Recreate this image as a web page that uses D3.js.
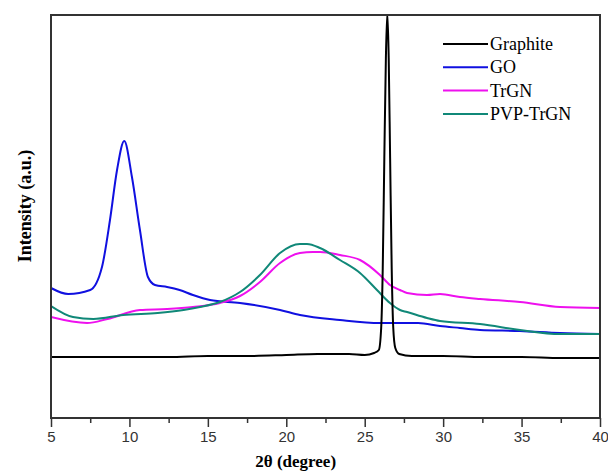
<!DOCTYPE html>
<html>
<head>
<meta charset="utf-8">
<script src="https://cdn.jsdelivr.net/npm/d3@7"></script>
<style>
  body { margin: 0; background: #fff; }
</style>
</head>
<body>
<script>
// XRD patterns, intensity in arbitrary units
var graphiteX = [5, 7, 10, 12.5, 15, 17.5, 20, 22, 24, 25, 25.6, 25.9, 26.05, 26.15, 26.25, 26.35, 26.44, 26.53, 26.62, 26.72, 26.82, 26.95, 27.2, 28, 30, 32.5, 35, 37.5, 40];
var graphiteY = [61, 61, 61, 61, 62, 62, 63, 64, 64, 63, 65, 68, 90, 150, 260, 360, 405, 360, 260, 150, 90, 70, 64, 62, 62, 61, 61, 60, 60];

var goX = [5, 6.1, 7.5, 8.25, 8.76, 9.21, 9.67, 10.16, 10.67, 11.18, 11.63, 12.4, 13.2, 14.05, 15.14, 17.05, 19.6, 20.87, 23.42, 25.97, 27.25, 28.4, 29.8, 31.07, 32.35, 34.9, 37.45, 40];
var goY = [130, 124, 128, 151, 198, 248, 277, 241, 188, 141, 133, 131, 128, 123, 118, 115, 108, 103, 98, 95, 95, 95, 92, 90, 88, 87, 85, 84];

var trgnX = [5, 7.3, 8.6, 10.67, 12.4, 14.05, 15.77, 17.05, 18.32, 19.6, 20.87, 21.7, 22.15, 23.42, 24.7, 25.97, 26.61, 27.25, 27.7, 28.97, 29.8, 31.07, 32.35, 34.9, 37.45, 40];
var trgnY = [101, 95, 99, 108, 109, 111, 115, 122, 136, 155, 165, 166, 166, 163, 158, 143, 133, 128, 125, 123, 124, 121, 119, 116, 111, 110];

var pvpX = [5, 6.4, 7.7, 9.6, 11.8, 13.45, 14.5, 15.77, 17.05, 18.32, 19.6, 20.87, 21.32, 22.15, 23.42, 24.7, 25.78, 26.61, 27.25, 27.7, 28.97, 29.8, 32.35, 34.9, 37.45, 40];
var pvpY = [112, 101, 99, 103, 105, 108, 111, 116, 126, 143, 165, 174, 174, 170, 158, 145, 128, 115, 108, 106, 100, 97, 94, 88, 84, 84];

var seriesNames = ["Graphite", "GO", "TrGN", "PVP-TrGN"];
var seriesColors = ["#000000", "#1010e0", "#ee10ee", "#108878"];
var xTicks = [5, 10, 15, 20, 25, 30, 35, 40];
var xMinorTicks = [7.5, 12.5, 17.5, 22.5, 27.5, 32.5, 37.5];

var margin = { top: 15, right: 8, bottom: 56, left: 51 },
    width = 608 - margin.left - margin.right,
    height = 474 - margin.top - margin.bottom;

var svg = d3.select("body").append("svg")
    .attr("width", 608)
    .attr("height", 474);

var g = svg.append("g")
    .attr("transform", "translate(" + margin.left + "," + margin.top + ")");

var x = d3.scaleLinear().domain([5, 40]).range([0, width]);
var y = d3.scaleLinear().domain([0, 403]).range([height, 0]);

var line = d3.line()
    .x(function (d) { return x(d[0]); })
    .y(function (d) { return y(d[1]); })
    .curve(d3.curveMonotoneX);

g.append("clipPath").attr("id", "clip")
    .append("rect").attr("width", width).attr("height", height);

var allX = [graphiteX, goX, trgnX, pvpX];
var allY = [graphiteY, goY, trgnY, pvpY];

// draw the patterns, graphite last so its peak sits on top
[1, 2, 3, 0].forEach(function (i) {
    g.append("path")
        .datum(d3.zip(allX[i], allY[i]))
        .attr("clip-path", "url(#clip)")
        .attr("fill", "none")
        .attr("stroke", seriesColors[i])
        .attr("stroke-width", 2)
        .attr("d", line);
});

// frame
g.append("rect")
    .attr("width", width)
    .attr("height", height)
    .attr("fill", "none")
    .attr("stroke", "#333")
    .attr("stroke-width", 2);

// bottom axis
var xAxis = g.append("g")
    .attr("transform", "translate(0," + height + ")")
    .call(d3.axisBottom(x).tickValues(xTicks).tickSize(9).tickFormat(d3.format("d")));
xAxis.select(".domain").remove();
xAxis.selectAll(".tick line").attr("stroke", "#333").attr("stroke-width", 1.5);
xAxis.selectAll(".tick text")
    .attr("fill", "#333")
    .attr("y", 13)
    .style("font", "15px 'Liberation Sans', Arial, sans-serif");

g.append("g")
    .attr("transform", "translate(0," + height + ")")
    .call(d3.axisBottom(x).tickValues(xMinorTicks).tickSize(5).tickFormat(""))
    .call(function (a) { a.select(".domain").remove(); })
    .selectAll(".tick line").attr("stroke", "#333").attr("stroke-width", 1.5);

// axis titles
svg.append("text")
    .attr("x", margin.left + x(20.6))
    .attr("y", 467)
    .attr("text-anchor", "middle")
    .style("font", "bold 17px 'Liberation Serif', 'Times New Roman', serif")
    .text("2\u03b8 (degree)");

svg.append("text")
    .attr("transform", "translate(31,206) rotate(-90)")
    .attr("text-anchor", "middle")
    .style("font", "bold 18px 'Liberation Serif', 'Times New Roman', serif")
    .text("Intensity (a.u.)");

// legend
var legend = svg.append("g").attr("transform", "translate(443,44)");
seriesNames.forEach(function (name, i) {
    var row = legend.append("g").attr("transform", "translate(0," + (i * 23.3) + ")");
    row.append("line")
        .attr("x1", 0).attr("x2", 45)
        .attr("stroke", seriesColors[i])
        .attr("stroke-width", 2);
    row.append("text")
        .attr("x", 47)
        .attr("y", 6)
        .style("font", "18px 'Liberation Serif', 'Times New Roman', serif")
        .text(name);
});
</script>
</body>
</html>
